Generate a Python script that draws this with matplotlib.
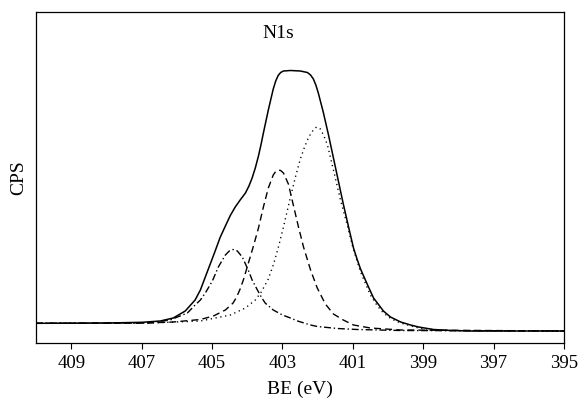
import matplotlib
matplotlib.use("Agg")
import matplotlib.pyplot as plt

# Binding energies (eV) and intensities (arbitrary CPS units)
sum_be = [410.00, 408.98, 407.98, 406.98, 406.47, 406.10, 405.76, 405.48, 405.33, 405.19,
          405.05, 404.91, 404.77, 404.62, 404.48, 404.34, 404.20, 404.05, 403.95, 403.86,
          403.77, 403.68, 403.61, 403.54, 403.40, 403.26, 403.19, 403.12, 403.05, 402.97,
          402.77, 402.49, 402.29, 402.20, 402.12, 402.05, 401.98, 401.84, 401.69, 401.55,
          401.41, 401.27, 401.12, 400.98, 400.88, 400.78, 400.58, 400.41, 400.13, 399.93,
          399.64, 399.36, 399.13, 398.71, 398.20, 397.65, 395.00]
sum_i = [19.7, 19.8, 20.0, 20.7, 22.0, 25.0, 32.0, 43.0, 53.0, 66.0,
         79.0, 92.0, 105.5, 117.0, 127.5, 136.0, 143.0, 150.0, 157.0, 165.0,
         175.0, 187.0, 198.0, 210.0, 233.0, 254.0, 262.0, 267.5, 270.5, 272.0,
         272.5, 272.0, 270.5, 268.0, 264.0, 258.0, 250.0, 231.0, 208.0, 185.0,
         162.0, 139.0, 116.0, 95.0, 84.0, 74.0, 58.0, 45.0, 32.0, 26.0,
         21.0, 18.0, 16.0, 13.5, 12.5, 12.0, 12.0]

dot_be = [410.00, 406.76, 405.33, 404.48, 404.05, 403.77, 403.60, 403.40, 403.25, 403.12,
          402.97, 402.87, 402.77, 402.63, 402.49, 402.38, 402.29, 402.20, 402.12, 402.03,
          401.92, 401.82, 401.72, 401.55, 401.35, 401.15, 401.01, 400.78, 400.50, 400.30,
          400.13, 399.90, 399.64, 399.13, 398.51, 395.00]
dot_i = [19.7, 20.0, 22.0, 28.0, 35.0, 43.0, 51.0, 64.0, 79.0, 95.0,
         116.0, 131.0, 146.0, 166.0, 184.0, 195.0, 203.0, 209.0, 213.0, 216.0,
         214.0, 207.0, 198.0, 173.0, 143.0, 117.0, 97.0, 71.0, 48.0, 37.0,
         30.0, 24.0, 20.0, 15.0, 12.5, 12.0]

dash_be = [410.00, 407.04, 406.10, 405.33, 404.96, 404.62, 404.40, 404.30, 404.20, 404.10,
           404.00, 403.83, 403.68, 403.54, 403.40, 403.26, 403.19, 403.12, 403.05, 402.97,
           402.83, 402.69, 402.55, 402.40, 402.20, 402.01, 401.78, 401.55, 401.27, 400.98,
           400.50, 399.64, 395.00]
dash_i = [19.7, 19.8, 21.0, 23.5, 27.0, 33.0, 40.0, 46.0, 54.0, 64.0,
          76.0, 96.0, 115.0, 136.0, 155.0, 168.0, 171.5, 173.0, 172.5, 170.0,
          159.0, 138.0, 117.0, 96.0, 73.0, 55.0, 39.0, 29.0, 23.0, 18.0,
          15.0, 13.0, 12.0]

dd_be = [410.00, 406.76, 406.19, 405.70, 405.48, 405.33, 405.19, 404.99, 404.82, 404.62,
         404.51, 404.40, 404.28, 404.14, 403.97, 403.86, 403.71, 403.60, 403.49, 403.26,
         403.00, 402.77, 402.57, 402.20, 402.01, 401.72, 401.44, 400.87, 399.64, 395.00]
dd_i = [19.7, 20.2, 23.0, 30.0, 38.0, 43.0, 50.0, 62.0, 76.0, 88.0,
        92.0, 93.5, 92.0, 86.0, 73.0, 63.0, 53.0, 46.0, 40.0, 33.0,
        28.0, 25.0, 22.0, 18.0, 16.5, 15.5, 14.5, 13.5, 12.5, 12.0]

xticks = [409, 407, 405, 403, 401, 399, 397, 395]

plt.rcParams['font.family'] = ['Liberation Serif', 'DejaVu Serif']

fig = plt.figure(figsize=(5.8, 4.05), dpi=100)
ax = fig.add_axes([36/580, 1 - 343/405, (564 - 36)/580, (343 - 12)/405])

lw = 1.0
ax.plot(sum_be, sum_i, color='black', lw=1.1, ls='-', solid_joinstyle='round')
ax.plot(dash_be, dash_i, color='black', lw=lw, ls=(0, (5.0, 3.0)))
ax.plot(dot_be, dot_i, color='black', lw=lw, ls=(0, (0.9, 2.6)))
ax.plot(dd_be, dd_i, color='black', lw=lw, ls=(0, (5.0, 2.0, 1.0, 2.0)))

ax.set_xlim(410.0, 395.0)
ax.set_ylim(0, 331)
ax.set_xticks(xticks)
ax.set_xticklabels([str(t) for t in xticks], fontsize=13.5)
ax.set_yticks([])
ax.tick_params(axis='x', direction='out', length=4, width=0.8, pad=5)
for s in ax.spines.values():
    s.set_linewidth(0.9)

ax.set_xlabel('BE (eV)', fontsize=14, labelpad=6)
ax.set_ylabel('CPS', fontsize=14, labelpad=6)
ax.text(403.13, 309.5, 'N1s', ha='center', va='center', fontsize=14)

fig.savefig('out.png', dpi=100)
